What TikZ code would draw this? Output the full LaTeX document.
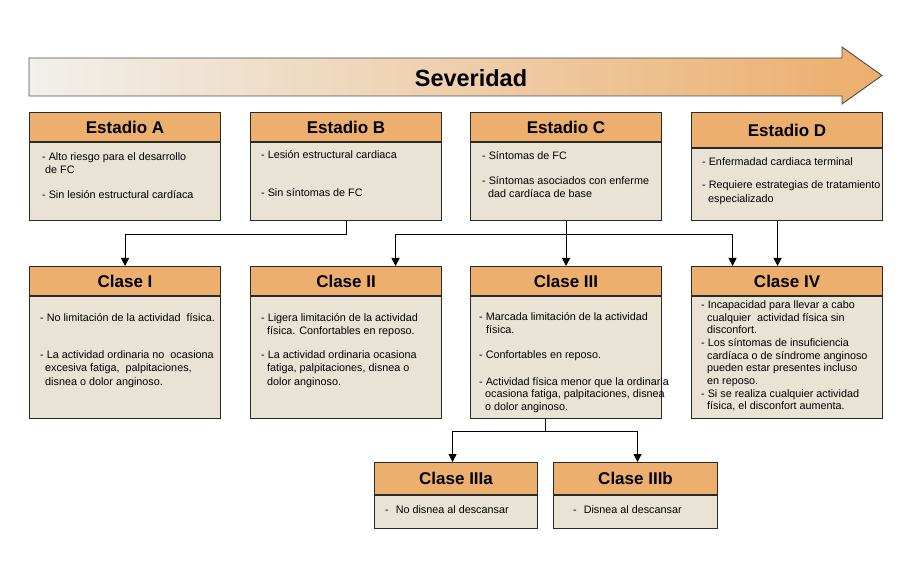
\documentclass[tikz,border=0pt]{standalone}
\usepackage{fontspec}
\setmainfont{Liberation Sans}
\usetikzlibrary{arrows.meta,calc}
\definecolor{hdrc}{HTML}{EDAF6E}
\definecolor{bodyc}{HTML}{E8E3D5}
\definecolor{arrL}{HTML}{F1F0EC}
\definecolor{arrR}{HTML}{ECAE6C}
\definecolor{edgec}{HTML}{2A2A2A}
\newcommand{\mkbox}[7]{%
  \node[hdr, minimum width=#4pt, minimum height=#5pt] (#1h) at (#2,#3) {#7};
  \node[bdy, minimum width=#4pt, minimum height=#6pt] (#1) at (#1h.south west) {};
}
\newcommand{\tline}[4]{\node[txt] (#1) at (#2,#3) {#4};}
\begin{document}
\begin{tikzpicture}[x=1pt,y=-1pt,
  hdr/.style={draw=edgec, line width=1.1pt, fill=hdrc, anchor=north west, inner sep=0pt,
    font=\fontsize{17}{20}\selectfont\bfseries},
  bdy/.style={draw=edgec, line width=1.1pt, fill=bodyc, anchor=north west, inner sep=0pt},
  txt/.style={anchor=base west, inner sep=0pt, font=\fontsize{10.8}{12.6}\selectfont},
  conn/.style={draw=black, line width=0.9pt, -{Triangle[length=8pt,width=8pt]}},
  plain/.style={draw=black, line width=0.9pt}]
\useasboundingbox (0,0) rectangle (916,561);

% severity arrow
\shade[left color=arrL, right color=arrR]
  (29,58) -- (842,58) -- (842,47) -- (882,75.5) -- (842,104) -- (842,96) -- (29,96) -- cycle;
\draw[draw=black!70, line width=0.9pt, line join=miter]
  (29,58) -- (842,58) -- (842,47) -- (882,75.5) -- (842,104) -- (842,96) -- (29,96) -- cycle;
\node[font=\fontsize{23.5}{27}\selectfont\bfseries, inner sep=0pt] (sev) at (471,78) {Severidad};

% stage boxes
\mkbox{eA}{29}{112}{191}{29}{78}{Estadio A}
\mkbox{eB}{250}{112}{191}{29}{78}{Estadio B}
\mkbox{eC}{470}{112}{191}{29}{78}{Estadio C}
\mkbox{eD}{691}{112}{191}{35}{72}{Estadio D}

% class boxes
\mkbox{cI}{29}{266}{191}{29}{122}{Clase I}
\mkbox{cII}{250}{266}{191}{29}{122}{Clase II}
\mkbox{cIII}{470}{266}{191}{29}{122}{Clase III}
\mkbox{cIV}{691}{266}{191}{29}{122}{Clase IV}
\mkbox{cIIIa}{374}{462}{163}{32}{33}{Clase IIIa}
\mkbox{cIIIb}{553}{462}{164}{32}{33}{Clase IIIb}

% texts: stages
\tline{tA1}{42}{161}{- Alto riesgo para el desarrollo}
\tline{tA2}{45}{174}{de FC}
\tline{tA3}{42}{199}{- Sin lesión estructural cardíaca}
\tline{tB1}{261}{159}{- Lesión estructural cardiaca}
\tline{tB2}{261}{197}{- Sin síntomas de FC}
\tline{tC1}{482}{160}{- Síntomas de FC}
\tline{tC2}{482}{185}{- Síntomas asociados con enferme}
\tline{tC3}{488}{197.6}{dad cardíaca de base}
\tline{tD1}{702}{166}{- Enfermadad cardiaca terminal}
\tline{tD2}{702}{189}{- Requiere estrategias de tratamiento}
\tline{tD3}{708}{203}{especializado}

% texts: classes
\tline{t11}{40}{322}{- No limitación de la actividad\ \ física.}
\tline{t12}{40}{359}{- La actividad ordinaria no\ \ ocasiona}
\tline{t13}{45}{372}{excesiva fatiga,\ \ palpitaciones,}
\tline{t14}{45}{385}{disnea o dolor anginoso.}
\tline{t21}{261}{322}{- Ligera limitación de la actividad}
\tline{t22}{267}{334.5}{física. Confortables en reposo.}
\tline{t23}{261}{359}{- La actividad ordinaria ocasiona}
\tline{t24}{267}{372}{fatiga, palpitaciones, disnea o}
\tline{t25}{267}{385}{dolor anginoso.}
\tline{t31}{479}{321}{- Marcada limitación de la actividad}
\tline{t32}{486}{334}{física.}
\tline{t33}{479}{359}{- Confortables en reposo.}
\tline{t34}{479}{385}{- Actividad física menor que la ordinaria}
\tline{t35}{485}{397.5}{ocasiona fatiga, palpitaciones, disnea}
\tline{t36}{485}{410}{o dolor anginoso.}
\tline{t41}{701}{309}{- Incapacidad para llevar a cabo}
\tline{t42}{707}{321.5}{cualquier\ \ actividad física sin}
\tline{t43}{707}{334}{disconfort.}
\tline{t44}{701}{347}{- Los síntomas de insuficiencia}
\tline{t45}{707}{359.5}{cardíaca o de síndrome anginoso}
\tline{t46}{707}{372}{pueden estar presentes incluso}
\tline{t47}{707}{384.5}{en reposo.}
\tline{t48}{701}{397}{- Si se realiza cualquier actividad}
\tline{t49}{707}{409.5}{física, el disconfort aumenta.}
\tline{t3a}{385}{513}{-\hspace{7pt}No disnea al descansar}
\tline{t3b}{573}{513}{-\hspace{7pt}Disnea al descansar}

% connectors
\draw[conn] (eB.south) -- ++(0,13) -| (cIh.north);
\draw[conn] (eC.south) -- (cIIIh.north);
\coordinate (jC) at ($(eC.south)+(0,13)$);
\draw[conn] (jC) -| ([xshift=49.5pt]cIIh.north);
\draw[conn] (jC) -| ([xshift=-54.5pt]cIVh.north);
\draw[conn] ([xshift=-9.5pt]eD.south) -- ([xshift=-9.5pt]cIVh.north);
\coordinate (j3) at ($([xshift=-21pt]cIII.south)+(0,12)$);
\draw[plain] ([xshift=-21pt]cIII.south) -- (j3);
\draw[conn] (j3) -| ([xshift=-3.5pt]cIIIah.north);
\draw[conn] (j3) -| ([xshift=2pt]cIIIbh.north);
\end{tikzpicture}
\end{document}
